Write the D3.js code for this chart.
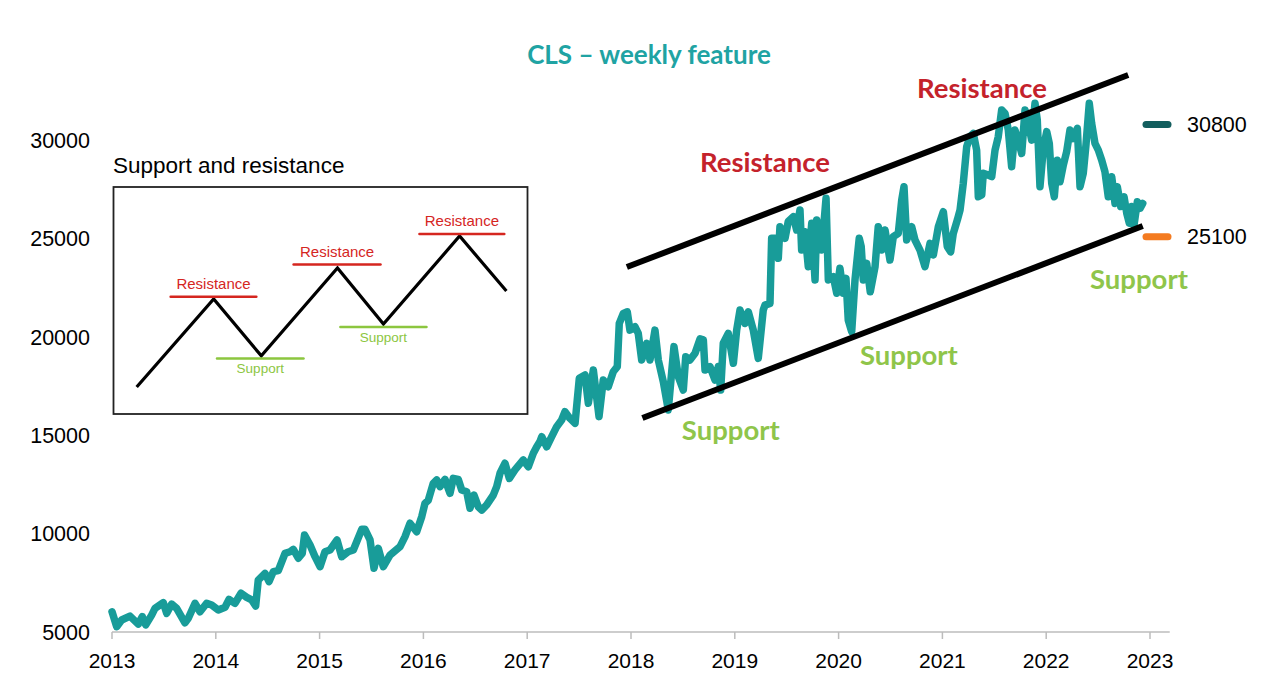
<!DOCTYPE html>
<html>
<head>
<meta charset="utf-8">
<script src="https://cdn.jsdelivr.net/npm/d3@7"></script>
<style>
  html, body { margin: 0; padding: 0; background: #fff; }
  svg { display: block; }
</style>
</head>
<body>
<svg id="chart" width="1280" height="700"></svg>
<script>
// ---------------- DATA ----------------
const title = "CLS \u2013 weekly feature";
const xTicks = [2013, 2014, 2015, 2016, 2017, 2018, 2019, 2020, 2021, 2022, 2023];
const yTicks = [5000, 10000, 15000, 20000, 25000, 30000];

const years = [
 2013.000,2013.045,2013.093,2013.173,2013.253,2013.292,2013.325,2013.382,2013.414,2013.494,
 2013.527,2013.575,2013.623,2013.703,2013.735,2013.800,2013.848,2013.912,2013.960,2014.024,
 2014.089,2014.127,2014.185,2014.243,2014.298,2014.346,2014.384,2014.409,2014.474,2014.513,
 2014.554,2014.602,2014.667,2014.715,2014.747,2014.795,2014.833,2014.855,2014.908,2014.956,
 2015.004,2015.052,2015.100,2015.168,2015.213,2015.274,2015.325,2015.406,2015.437,2015.486,
 2015.524,2015.566,2015.614,2015.678,2015.775,2015.823,2015.871,2015.935,2015.984,2016.015,
 2016.047,2016.095,2016.128,2016.160,2016.208,2016.256,2016.288,2016.336,2016.369,2016.417,
 2016.449,2016.487,2016.529,2016.562,2016.610,2016.673,2016.706,2016.738,2016.786,2016.828,
 2016.882,2016.962,2017.011,2017.059,2017.092,2017.123,2017.140,2017.188,2017.236,2017.284,
 2017.332,2017.364,2017.412,2017.461,2017.502,2017.557,2017.589,2017.637,2017.692,2017.733,
 2017.781,2017.829,2017.868,2017.887,2017.926,2017.964,2017.990,2018.039,2018.070,2018.103,
 2018.151,2018.183,2018.231,2018.263,2018.311,2018.359,2018.414,2018.456,2018.504,2018.527,
 2018.568,2018.617,2018.665,2018.697,2018.713,2018.761,2018.809,2018.841,2018.864,2018.889,
 2018.937,2018.986,2019.018,2019.050,2019.098,2019.130,2019.178,2019.226,2019.274,2019.291,
 2019.339,2019.355,2019.387,2019.419,2019.435,2019.484,2019.515,2019.564,2019.596,2019.628,
 2019.644,2019.676,2019.708,2019.741,2019.773,2019.789,2019.821,2019.837,2019.879,2019.901,
 2019.949,2019.982,2020.013,2020.045,2020.071,2020.093,2020.126,2020.158,2020.199,2020.218,
 2020.238,2020.271,2020.305,2020.351,2020.382,2020.415,2020.447,2020.495,2020.527,2020.575,
 2020.608,2020.630,2020.656,2020.704,2020.736,2020.784,2020.832,2020.881,2020.913,2020.961,
 2021.009,2021.047,2021.080,2021.105,2021.144,2021.170,2021.201,2021.234,2021.266,2021.298,
 2021.330,2021.346,2021.379,2021.394,2021.442,2021.475,2021.507,2021.538,2021.571,2021.603,
 2021.635,2021.667,2021.699,2021.731,2021.764,2021.796,2021.828,2021.860,2021.892,2021.914,
 2021.940,2021.972,2022.005,2022.030,2022.053,2022.078,2022.107,2022.133,2022.165,2022.197,
 2022.229,2022.261,2022.300,2022.326,2022.357,2022.383,2022.415,2022.438,2022.470,2022.502,
 2022.535,2022.566,2022.598,2022.631,2022.663,2022.685,2022.718,2022.750,2022.776,2022.801,
 2022.824,2022.846,2022.878,2022.904,2022.930
];
const values = [
 6030,5270,5610,5810,5400,5780,5360,5860,6200,6490,
 5950,6420,6200,5470,5700,6460,6030,6460,6370,6120,
 6260,6660,6460,6970,6760,6630,6320,7640,7980,7560,
 8070,8120,9000,9080,9200,8750,9000,9930,9420,8830,
 8320,9080,9170,9680,8830,9080,9170,10220,10220,9680,
 8240,9250,8320,8910,9340,9850,10530,10100,10860,11540,
 11700,12560,12730,12390,12760,12050,12810,12760,12220,12130,
 11290,11960,11370,11200,11460,11960,12390,13070,13580,12810,
 13240,13750,13400,14090,14420,14680,14930,14420,14930,15440,
 15780,16200,15860,15610,17900,18070,16630,18320,15950,17810,
 17470,18230,18490,20690,21200,21280,20350,20520,20180,18830,
 19680,18830,20350,18830,17730,16290,19510,17980,17300,19000,
 18830,19170,19900,19850,18320,18490,17810,18490,17300,19680,
 20180,18660,20350,21370,20690,21280,20350,18910,21370,21620,
 21710,25020,25020,24000,25610,25020,25870,26120,25440,26460,
 24420,25350,23570,25780,22900,25950,25100,24420,27050,22900,
 23060,22220,23490,22220,22980,20860,20270,22900,25020,24590,
 22900,23740,22300,23570,25610,24420,25440,23910,25100,25270,
 26960,27640,24930,25610,24930,24420,23570,24760,24170,25610,
 26370,24590,24330,25270,25950,26460,27810,29670,30180,30350,
 29500,27130,27220,28320,28230,28150,29500,30180,31540,31370,
 30520,28660,30520,30010,29330,31540,30860,30010,31880,31030,
 27640,29580,30440,29840,27810,27130,28990,27890,28740,29420,
 30520,30090,30610,27640,28320,29760,31880,30860,29840,29500,
 28990,28400,27130,28150,26790,27640,26630,27130,26290,25780,
 26630,25690,26880,26540,26790
];

// channel lines (year, value)
const resistanceYears = [2017.96, 2022.79];
const resistanceValues = [23556, 33317];
const supportYears = [2018.11, 2022.93];
const supportValues = [15880, 25641];

// annotation labels (text, year, value)
const annoText  = ["Resistance", "Resistance", "Support", "Support", "Support"];
const annoKind  = ["r", "r", "s", "s", "s"];
const annoYears = [2018.665, 2020.755, 2018.49, 2020.206, 2022.422];
const annoVals  = [28400, 32150, 14780, 18560, 22430];

// level markers on the right
const levelValues = [30800, 25100];
const levelLabels = ["30800", "25100"];

// inset "Support and resistance" schematic (0-100 units)
const insetTitle = "Support and resistance";
const insetX = [5.6, 24.2, 35.7, 54.1, 65.2, 83.6, 94.9];
const insetY = [11.9, 50.7, 25.6, 64.3, 39.6, 78.4, 54.2];
const insetResX0 = [13.8, 43.5, 73.9];
const insetResX1 = [34.5, 64.5, 94.4];
const insetResY  = [51.7, 65.9, 79.3];
const insetSupX0 = [25.0, 54.8];
const insetSupX1 = [45.9, 75.6];
const insetSupY  = [24.4, 38.3];

// ---------------- DRAW ----------------
const svg = d3.select("#chart");
const teal = "#189c99";
const red = "#c4222b";
const green = "#8fc54a";

const x = d3.scaleLinear().domain([2013, 2023]).range([112, 1150]);
const y = d3.scaleLinear().domain([5000, 30000]).range([632, 140.3]);

// title
svg.append("text")
  .attr("x", 649).attr("y", 64)
  .attr("text-anchor", "middle")
  .attr("font-family", "Lato, 'Open Sans', sans-serif")
  .attr("font-weight", 700)
  .attr("font-size", 26)
  .attr("fill", "#20a3a3")
  .text(title);

// y axis labels (no line)
svg.append("g").selectAll("text").data(yTicks).join("text")
  .attr("x", 90).attr("y", d => y(d))
  .attr("dy", "0.36em")
  .attr("text-anchor", "end")
  .attr("font-family", "'Liberation Sans', Arial, sans-serif")
  .attr("font-size", 21.5)
  .attr("fill", "#000")
  .text(d => d);

// x axis
const xAxis = svg.append("g").attr("transform", "translate(0,632)");
xAxis.append("line")
  .attr("x1", x(2013)).attr("x2", x(2023.19))
  .attr("y1", 0).attr("y2", 0)
  .attr("stroke", "#bcbcbc").attr("stroke-width", 1.5);
xAxis.selectAll("line.tick").data(xTicks).join("line")
  .attr("class", "tick")
  .attr("x1", d => x(d)).attr("x2", d => x(d))
  .attr("y1", 0).attr("y2", 7)
  .attr("stroke", "#bcbcbc").attr("stroke-width", 1.5);
xAxis.selectAll("text").data(xTicks).join("text")
  .attr("x", d => x(d)).attr("y", 36)
  .attr("text-anchor", "middle")
  .attr("font-family", "'Liberation Sans', Arial, sans-serif")
  .attr("font-size", 21)
  .attr("fill", "#000")
  .text(d => d);

// main series
const series = years.map((yr, i) => [yr, values[i]]);
svg.append("path")
  .datum(series)
  .attr("fill", "none")
  .attr("stroke", teal)
  .attr("stroke-width", 7.5)
  .attr("stroke-linejoin", "round")
  .attr("stroke-linecap", "round")
  .attr("d", d3.line().x(d => x(d[0])).y(d => y(d[1])));

// channel lines
[[resistanceYears, resistanceValues], [supportYears, supportValues]].forEach(([xs, vs]) => {
  svg.append("line")
    .attr("x1", x(xs[0])).attr("y1", y(vs[0]))
    .attr("x2", x(xs[1])).attr("y2", y(vs[1]))
    .attr("stroke", "#000").attr("stroke-width", 6);
});

// annotations
svg.append("g").selectAll("text").data(annoText).join("text")
  .attr("x", (d, i) => x(annoYears[i]))
  .attr("y", (d, i) => y(annoVals[i]))
  .attr("font-family", "Lato, 'Open Sans', sans-serif")
  .attr("font-weight", 700)
  .attr("font-size", 27.5)
  .attr("fill", (d, i) => annoKind[i] === "r" ? red : green)
  .text(d => d);

// level markers
const levelColors = ["#135e5e", "#f47b20"];
svg.append("g").selectAll("line").data(levelValues).join("line")
  .attr("x1", 1146).attr("x2", 1168)
  .attr("y1", d => y(d)).attr("y2", d => y(d))
  .attr("stroke", (d, i) => levelColors[i])
  .attr("stroke-width", 7)
  .attr("stroke-linecap", "round");
svg.append("g").selectAll("text").data(levelValues).join("text")
  .attr("x", 1187).attr("y", d => y(d))
  .attr("dy", "0.36em")
  .attr("font-family", "'Liberation Sans', Arial, sans-serif")
  .attr("font-size", 21.5)
  .attr("fill", "#000")
  .text((d, i) => levelLabels[i]);

// inset
const ix = d3.scaleLinear().domain([0, 100]).range([113.5, 527.5]);
const iy = d3.scaleLinear().domain([0, 100]).range([414, 187]);
svg.append("text")
  .attr("x", 113).attr("y", 173)
  .attr("font-family", "'Liberation Sans', Arial, sans-serif")
  .attr("font-size", 22.5)
  .attr("fill", "#000")
  .text(insetTitle);
svg.append("rect")
  .attr("x", ix(0)).attr("y", iy(100))
  .attr("width", ix(100) - ix(0)).attr("height", iy(0) - iy(100))
  .attr("fill", "#fff").attr("stroke", "#222").attr("stroke-width", 1.8);
svg.append("path")
  .datum(insetX.map((v, i) => [v, insetY[i]]))
  .attr("fill", "none").attr("stroke", "#000").attr("stroke-width", 3.2)
  .attr("d", d3.line().x(d => ix(d[0])).y(d => iy(d[1])));
const insRed = "#d5261f", insGreen = "#8cc63f";
insetResY.forEach((v, i) => {
  svg.append("line")
    .attr("x1", ix(insetResX0[i])).attr("x2", ix(insetResX1[i]))
    .attr("y1", iy(v)).attr("y2", iy(v))
    .attr("stroke", insRed).attr("stroke-width", 2.5).attr("stroke-linecap", "round");
  svg.append("text")
    .attr("x", (ix(insetResX0[i]) + ix(insetResX1[i])) / 2)
    .attr("y", iy(v) - 7.5)
    .attr("text-anchor", "middle")
    .attr("font-family", "'Liberation Sans', Arial, sans-serif")
    .attr("font-size", 15)
    .attr("fill", insRed)
    .text("Resistance");
});
insetSupY.forEach((v, i) => {
  svg.append("line")
    .attr("x1", ix(insetSupX0[i])).attr("x2", ix(insetSupX1[i]))
    .attr("y1", iy(v)).attr("y2", iy(v))
    .attr("stroke", insGreen).attr("stroke-width", 2.5).attr("stroke-linecap", "round");
  svg.append("text")
    .attr("x", (ix(insetSupX0[i]) + ix(insetSupX1[i])) / 2)
    .attr("y", iy(v) + 14.5)
    .attr("text-anchor", "middle")
    .attr("font-family", "'Liberation Sans', Arial, sans-serif")
    .attr("font-size", 13.5)
    .attr("fill", insGreen)
    .text("Support");
});
</script>
</body>
</html>
